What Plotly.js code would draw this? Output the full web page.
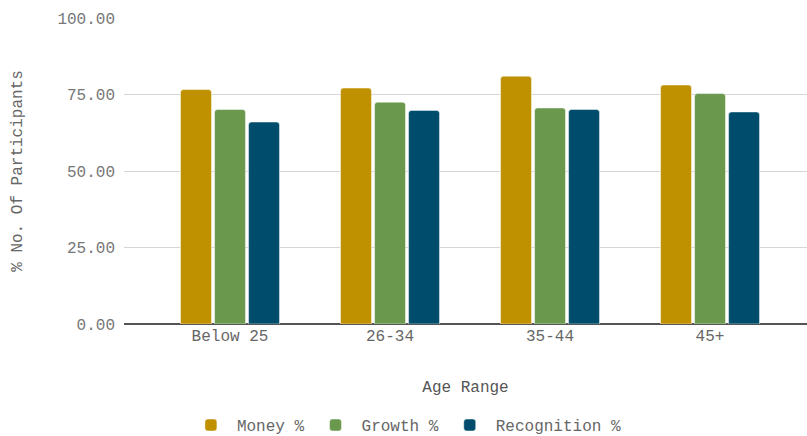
<!DOCTYPE html>
<html>
<head>
<meta charset="utf-8">
<script src="https://cdn.plot.ly/plotly-3.0.1.min.js"></script>
<style>html,body{margin:0;padding:0;background:#fff;}#chart{width:807px;height:436px;}</style>
</head>
<body>
<div id="chart"></div>
<script>
const categories = ["Below 25", "26-34", "35-44", "45+"];
const moneyPct = [76.6, 77.1, 81.0, 78.1];
const growthPct = [70.1, 72.5, 70.6, 75.3];
const recognitionPct = [66.0, 69.8, 70.1, 69.3];
const seriesNames = ["Money %", "Growth %", "Recognition %"];
const seriesColors = ["#BF9000", "#6A994E", "#004C6D"];
const seriesValues = [moneyPct, growthPct, recognitionPct];

const FONT = "Courier New, Liberation Mono, monospace";

const traces = seriesValues.map((vals, i) => ({
  type: "bar",
  name: seriesNames[i],
  x: categories,
  y: vals,
  marker: {color: seriesColors[i], line: {color: "rgba(255,255,255,0.6)", width: 0.8}},
  hoverinfo: "none"
}));

const layout = {
  width: 807, height: 436,
  margin: {l: 124, r: 0, t: 18, b: 112},
  paper_bgcolor: "#fff", plot_bgcolor: "#fff",
  font: {family: FONT, size: 16, color: "#666"},
  barmode: "group",
  bargap: 0.3625,
  bargroupgap: 0.09,
  barcornerradius: 3,
  xaxis: {
    type: "category",
    range: [-0.6625, 3.606],
    showgrid: false,
    showline: false,
    zeroline: false,
    tickfont: {family: FONT, size: 16, color: "#666"},
    title: {text: "Age Range", font: {family: FONT, size: 16, color: "#555"}, standoff: 35}
  },
  yaxis: {
    range: [0, 100],
    dtick: 25,
    tickformat: ".2f",
    showgrid: true,
    gridcolor: "#d6d6d6",
    gridwidth: 1,
    zeroline: true,
    zerolinecolor: "#555",
    zerolinewidth: 1.5,
    ticklabelstandoff: 8,
    tickfont: {family: FONT, size: 16, color: "#777"},
    title: {text: "% No. Of Participants", font: {family: FONT, size: 16, color: "#666"}, standoff: 30}
  },
  showlegend: true,
  legend: {
    orientation: "h",
    xref: "container", yref: "container",
    x: 0.503, xanchor: "center",
    y: 0.025, yanchor: "middle",
    font: {family: FONT, size: 16, color: "#666"},
    itemwidth: 42,
    traceorder: "normal"
  }
};

Plotly.newPlot("chart", traces, layout, {displayModeBar: false, staticPlot: true});
</script>
</body>
</html>
